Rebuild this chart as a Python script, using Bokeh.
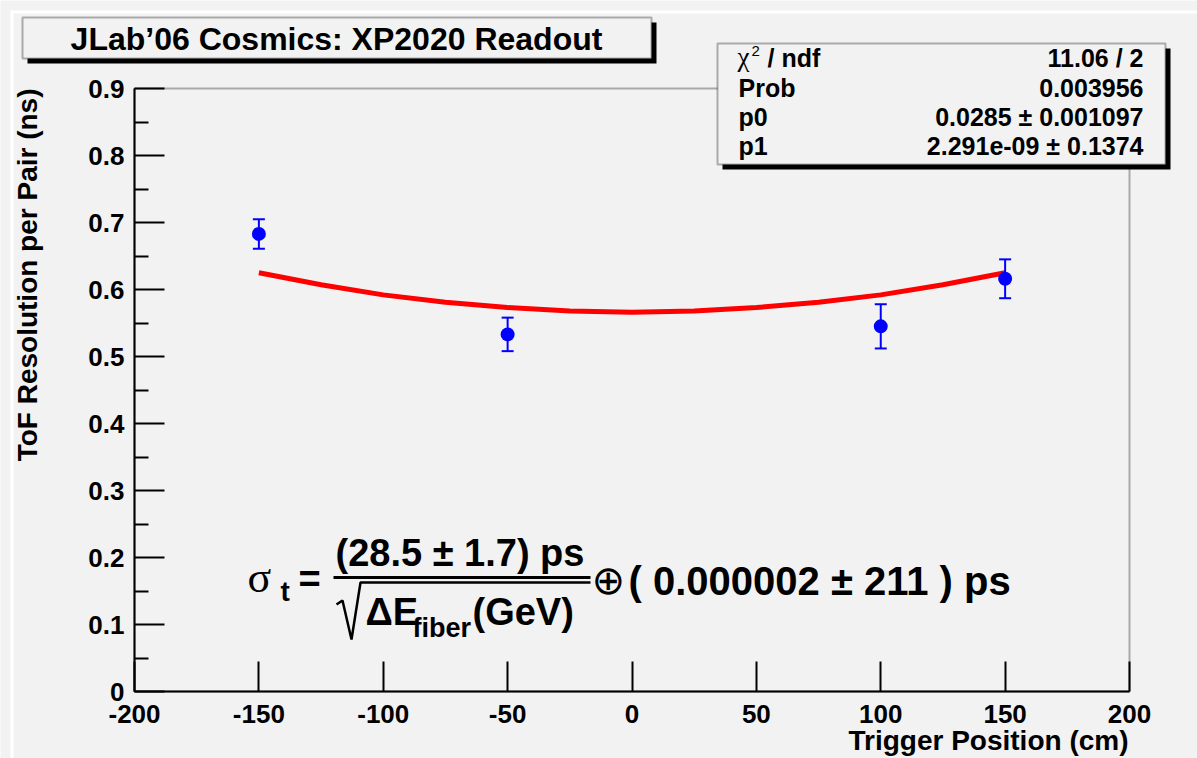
from bokeh.plotting import figure
from bokeh.models import (Range1d, FixedTicker, NumeralTickFormatter,
                          Label, BoxAnnotation)
from bokeh.embed import file_html
from bokeh.resources import INLINE

# ---------------- data ----------------
trigger_cm = [-150, -50, 100, 150]
resolution_ns = [0.683, 0.533, 0.545, 0.616]
resolution_err = [0.022, 0.025, 0.033, 0.029]

fit_x = [-150, -125, -100, -75, -50, -25, 0, 25, 50, 75, 100, 125, 150]
fit_y = [0.625, 0.607, 0.592, 0.581, 0.573, 0.568, 0.566, 0.568, 0.573, 0.581, 0.592, 0.607, 0.625]

x_ticks = [-200, -150, -100, -50, 0, 50, 100, 150, 200]
y_ticks = [0, 0.1, 0.2, 0.3, 0.4, 0.5, 0.6, 0.7, 0.8, 0.9]
y_minor = [0.05, 0.15, 0.25, 0.35, 0.45, 0.55, 0.65, 0.75, 0.85]

title_text = "JLab\u201906 Cosmics: XP2020 Readout"
x_label = "Trigger Position (cm)"
y_label = "ToF Resolution per Pair (ns)"
stat_names = ["Prob", "p0", "p1"]
stat_values = ["11.06 / 2", "0.003956", "0.0285 \u00b1 0.001097", "2.291e-09 \u00b1 0.1374"]
formula_num = "(28.5 \u00b1 1.7) ps"
formula_tail = "( 0.000002 \u00b1 211 ) ps"

# ---------------- layout ----------------
BG = "#f2f2f2"
BLUE = "#0000ff"
RED = "#ff0000"
FONT = "Liberation Sans"
W, H = 1197, 758
FL, FR, FT, FB = 134, 1129, 88, 691      # pixel box of the axes frame
X0, X1, Y0, Y1 = -200, 200, 0, 0.9
MID = 0.3465  # baseline offset of the text box middle, in em


def ux(px):
    return X0 + (px - FL) * (X1 - X0) / (FR - FL)


def uy(py):
    return Y0 + (FB - py) * (Y1 - Y0) / (FB - FT)


p = figure(width=W, height=H, x_range=Range1d(ux(0), ux(W)), y_range=Range1d(uy(H), uy(0)),
           output_backend="svg", toolbar_location=None, min_border=0,
           background_fill_color=BG, border_fill_color=BG, outline_line_color=None)
p.xgrid.grid_line_color = None
p.ygrid.grid_line_color = None

xa = p.below[0]
xa.ticker = FixedTicker(ticks=x_ticks, minor_ticks=[])
xa.formatter = NumeralTickFormatter(format="0")
xa.fixed_location = Y0
xa.bounds = (X0, X1)
ya = p.left[0]
ya.ticker = FixedTicker(ticks=y_ticks, minor_ticks=y_minor)
ya.formatter = NumeralTickFormatter(format="0.[0]")
ya.fixed_location = X0
ya.bounds = (Y0, Y1)
for ax in (xa, ya):
    ax.axis_line_width = 2
    ax.axis_line_color = "black"
    ax.major_tick_in = 30
    ax.major_tick_out = 0
    ax.major_tick_line_width = 2
    ax.major_tick_line_color = "black"
    ax.minor_tick_in = 14
    ax.minor_tick_out = 0
    ax.minor_tick_line_width = 2
    ax.minor_tick_line_color = "black"
    ax.major_label_text_font = FONT
    ax.major_label_text_font_style = "bold"
    ax.major_label_text_font_size = "26px"
    ax.major_label_text_color = "black"
xa.minor_tick_line_color = None
xa.major_label_standoff = 13
ya.major_label_standoff = 10

# ---------------- data marks ----------------
lower = [v - e for v, e in zip(resolution_ns, resolution_err)]
upper = [v + e for v, e in zip(resolution_ns, resolution_err)]

p.line(fit_x, fit_y, line_color=RED, line_width=5)
p.segment(x0=trigger_cm, y0=lower, x1=trigger_cm, y1=upper, line_color=BLUE, line_width=2)
p.scatter(trigger_cm, upper, marker="dash", size=12, line_color=BLUE, line_width=2)
p.scatter(trigger_cm, lower, marker="dash", size=12, line_color=BLUE, line_width=2)
p.scatter(trigger_cm, resolution_ns, marker="circle", size=14, fill_color=BLUE, line_color=None)


# ---------------- helpers for decorations (pixel positions -> data units) ----------------
def pbox(l, r, t, b, fill, line=None, lw=2, falpha=1):
    p.add_layout(BoxAnnotation(left=ux(l), right=ux(r), top=uy(t), bottom=uy(b),
                               fill_color=fill, fill_alpha=falpha, line_color=line,
                               line_width=lw))


def plab(xp, base, txt, size, font=FONT, style="bold", align="left", angle=0):
    off = MID * size
    if angle:
        xx, yy = xp - off, base
    else:
        xx, yy = xp, base - off
    p.add_layout(Label(x=ux(xx), y=uy(yy), text=txt, text_align=align,
                       text_baseline="middle", angle=angle, angle_units="deg",
                       text_font=font, text_font_style=style,
                       text_font_size=f"{size}px", text_color="black"))


# canvas edge lines
pbox(10, 13, 10, 760, "white")
pbox(10, 1200, 10, 13, "white")

# axes frame (top and right edges)
pbox(FL, FR, FT, FB, None, "black", 2, falpha=0)

# ---------------- title box ----------------
pbox(27, 656, 22, 63, "black")
pbox(22, 651, 17, 58, BG, "black", 2)
plab(336, 50, title_text, 32, align="center")

# ---------------- stats box ----------------
pbox(722, 1170, 48, 169, "black")
pbox(717, 1165, 43, 164, BG, "black", 2)
baselines = [66, 96, 125, 154]
plab(737, 66, "\u03c7", 27, font="Liberation Serif", style="normal")
plab(751, 56, "2", 15, style="normal")
plab(767, 66, "/ ndf", 25)
for name, b in zip(stat_names, baselines[1:]):
    plab(738, b, name, 25)
for val, b in zip(stat_values, baselines):
    plab(1143, b, val, 25, align="right")

# ---------------- axis titles ----------------
plab(37, 88, y_label, 28, align="right", angle=90)
plab(1128, 750, x_label, 28, align="right")

# ---------------- formula ----------------
plab(247, 592, "\u03c3", 44, font="Liberation Serif", style="normal")
plab(280, 601, "t", 28)
plab(298, 592, "=", 38)
plab(335, 566, formula_num, 38)
plab(365, 625, "\u0394E", 38)
plab(412, 637, "fiber", 27)
plab(472, 625, "(GeV)", 38)
plab(591, 593, "\u2295", 40, font="DejaVu Sans", style="normal")
plab(628, 594, formula_tail, 40)

p.line([ux(333), ux(590)], [uy(577), uy(577)], line_color="black", line_width=3)
p.line([ux(336), ux(342), ux(351), ux(360), ux(590)],
       [uy(604), uy(600), uy(639), uy(582), uy(582)], line_color="black", line_width=2.5)

open("out.html", "w").write(file_html(p, INLINE))
